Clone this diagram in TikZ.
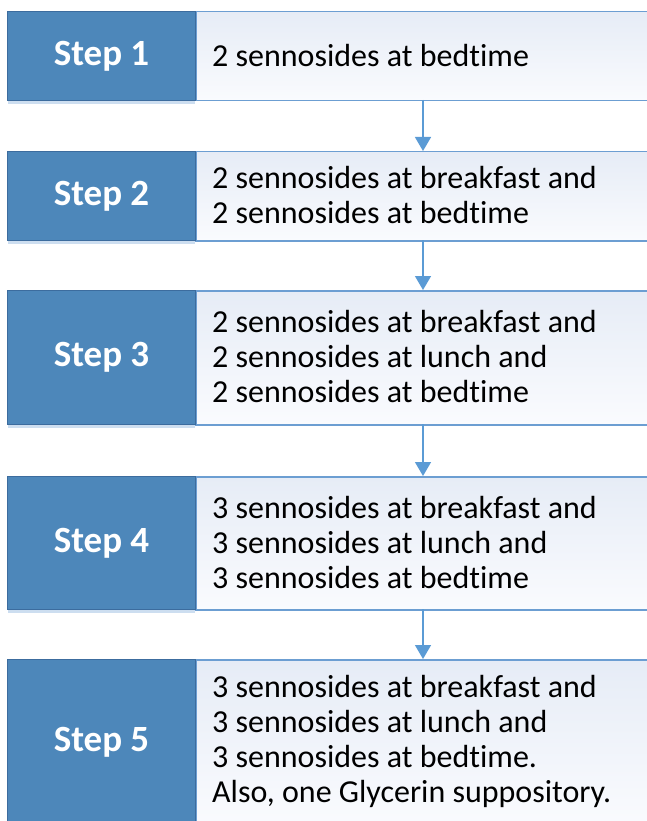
\documentclass[tikz,border=0pt]{standalone}
\usepackage{fontspec}
\setmainfont[Ligatures=CommonOff]{Carlito}
\usetikzlibrary{arrows.meta}
\definecolor{stepblue}{RGB}{77,135,186}
\definecolor{stepedge}{RGB}{60,108,158}
\definecolor{boxedge}{RGB}{108,158,210}
\definecolor{boxtop}{RGB}{230,236,246}
\definecolor{boxbot}{RGB}{250,251,254}
\definecolor{arrowblue}{RGB}{91,155,213}
\definecolor{shadowblue}{RGB}{205,222,240}
\tikzset{
  stepbox/.style={draw=stepedge, line width=1pt, fill=stepblue, minimum width=188pt, inner sep=0pt,
    text=white, font=\fontsize{37}{40}\selectfont\bfseries, anchor=north west},
  textbox/.style={draw=boxedge, line width=1.5pt, top color=boxtop, bottom color=boxbot,
    minimum width=470pt, inner sep=0pt, anchor=north west},
  bodytext/.style={align=left, anchor=west, font=\fontsize{32}{35}\selectfont, text=black, inner sep=0pt},
  flow/.style={draw=arrowblue, line width=1.5pt, -{Triangle[length=14pt,width=16pt]}},
}
\begin{document}
\begin{tikzpicture}[x=1pt,y=-1pt]
\useasboundingbox (0,0) rectangle (647,821);
\clip (0,0) rectangle (647,821);
% shadows
\foreach \yy in {100,240,424,609}{\fill[shadowblue] (8,\yy) rectangle (195,\yy+4);}
% step 1
\node[textbox, minimum height=89pt] (b1) at (195,11) {};
\node[stepbox, minimum height=89pt] (s1) at (7,11) {Step 1};
\node[bodytext] (t1) at (212,55.5) {2 sennosides at bedtime};
% step 2
\node[textbox, minimum height=89pt] (b2) at (195,151) {};
\node[stepbox, minimum height=89pt] (s2) at (7,151) {Step 2};
\node[bodytext] (t2) at (212,195) {2 sennosides at breakfast and\\2 sennosides at bedtime};
% step 3
\node[textbox, minimum height=134pt] (b3) at (195,290) {};
\node[stepbox, minimum height=134pt] (s3) at (7,290) {Step 3};
\node[bodytext] (t3) at (212,357) {2 sennosides at breakfast and\\2 sennosides at lunch and\\2 sennosides at bedtime};
% step 4
\node[textbox, minimum height=133pt] (b4) at (195,476) {};
\node[stepbox, minimum height=133pt] (s4) at (7,476) {Step 4};
\node[bodytext] (t4) at (212,542.5) {3 sennosides at breakfast and\\3 sennosides at lunch and\\3 sennosides at bedtime};
% step 5
\node[textbox, minimum height=166pt] (b5) at (195,659) {};
\node[stepbox, minimum height=166pt] (s5) at (7,659) {Step 5};
\node[bodytext] (t5) at (212,741) {3 sennosides at breakfast and\\3 sennosides at lunch and\\3 sennosides at bedtime.\\Also, one Glycerin suppository.};
% arrows
\coordinate (a1) at (423,100);
\draw[flow] (a1) -- (a1 |- b2.north);
\coordinate (a2) at (423,240);
\draw[flow] (a2) -- (a2 |- b3.north);
\coordinate (a3) at (423,424);
\draw[flow] (a3) -- (a3 |- b4.north);
\coordinate (a4) at (423,609);
\draw[flow] (a4) -- (a4 |- b5.north);
\end{tikzpicture}
\end{document}
